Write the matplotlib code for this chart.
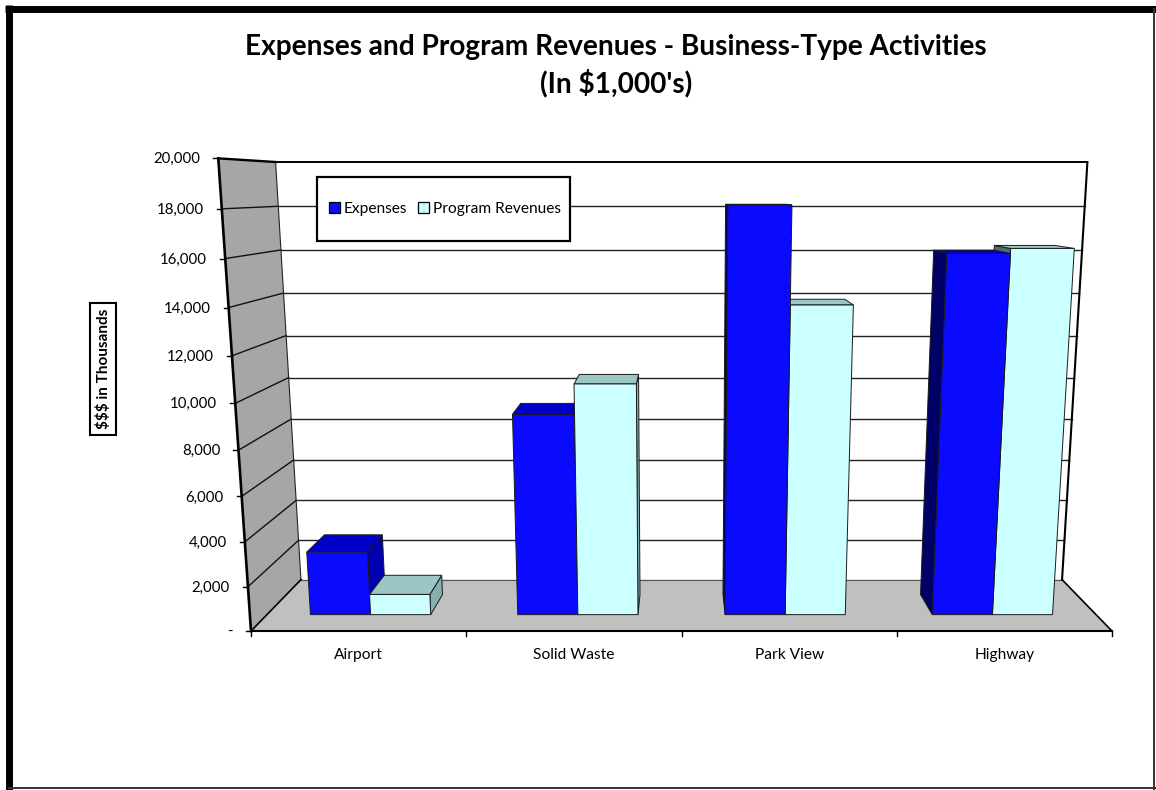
import numpy as np
import matplotlib
matplotlib.use("Agg")
import matplotlib.pyplot as plt
from matplotlib.patches import Polygon, Rectangle, Patch

# ---------------------------------------------------------------- data
categories = ["Airport", "Solid Waste", "Park View", "Highway"]
expenses = [2920, 9150, 18120, 16100]
program_revenues = [950, 10490, 13910, 16310]
series_names = ["Expenses", "Program Revenues"]
value_ticks = [0, 2000, 4000, 6000, 8000, 10000, 12000, 14000, 16000, 18000, 20000]
value_tick_labels = ["-", "2,000", "4,000", "6,000", "8,000", "10,000",
                     "12,000", "14,000", "16,000", "18,000", "20,000"]
title_lines = ["Expenses and Program Revenues - Business-Type Activities",
               "(In $1,000's)"]
y_label = "$$$ in Thousands"

# ---------------------------------------------------------------- styling
FONT = ["Lato", "DejaVu Sans"]
plt.rcParams["font.family"] = FONT

EXP_FACES = {"front": "#0A0AFF", "top": "#0000C8", "right": "#0000B0", "left": "#000066"}
REV_FACES = {"front": "#CCFFFF", "top": "#9CC6C6", "right": "#86B0B0", "left": "#4F6E6E"}
WALL_GRAY = "#A6A6A6"
FLOOR_GRAY = "#C0C0C0"

# ---------------------------------------------------------------- camera
W_PX, H_PX = 1156, 790
FOCAL = 1169.4
PITCH = np.arctan2(212.0, 1169.4)       # camera looks slightly downward
CENTER_X, CENTER_Y = 681.5, 400.0        # principal point (pixels)
HALF_WIDTH = 0.36814                     # half width of the plot box
FLOOR_Y = -0.37279                       # floor height relative to the eye
FRONT_Z = -0.94872                       # front plane distance
WALL_HEIGHT = 0.39597                    # height for the full value range
BOX_DEPTH = 0.13336                      # floor depth
Y_MAX = value_ticks[-1]
N_CAT = len(categories)
BAR_WIDTH = 0.29                         # in category units
BAR_FRONT, BAR_BACK = 0.293, 0.683       # fraction of the floor depth

cos_p, sin_p = np.cos(PITCH), np.sin(PITCH)


def project(cat_pos, value, depth):
    """Map (category position, value, depth fraction) to pixel coordinates."""
    cat_pos = np.asarray(cat_pos, dtype=float)
    value = np.asarray(value, dtype=float)
    depth = np.asarray(depth, dtype=float)
    X = (cat_pos / N_CAT - 0.5) * 2 * HALF_WIDTH
    Y = FLOOR_Y + WALL_HEIGHT * value / Y_MAX
    Z = FRONT_Z - BOX_DEPTH * depth
    yc = Y * cos_p - Z * sin_p
    zc = -Y * sin_p - Z * cos_p
    return CENTER_X + FOCAL * X / zc, CENTER_Y - FOCAL * yc / zc


def quad(points):
    xs, ys = project(*np.array(points).T)
    return np.column_stack([xs, ys])


def seg(ax, p0, p1, **kw):
    xs, ys = project(*np.array([p0, p1]).T)
    ax.plot(xs, ys, solid_capstyle="projecting", **kw)


fig = plt.figure(figsize=(W_PX / 100, H_PX / 100), dpi=100)
ax = fig.add_axes([0, 0, 1, 1])
ax.set_xlim(0, W_PX)
ax.set_ylim(H_PX, 0)
ax.axis("off")

# ---------------------------------------------------------------- walls & floor
ax.add_patch(Polygon(quad([(0, 0, 0), (0, 0, 1), (0, Y_MAX, 1), (0, Y_MAX, 0)]),
                     closed=True, fc=WALL_GRAY, ec="none", zorder=1))
ax.add_patch(Polygon(quad([(0, 0, 1), (N_CAT, 0, 1), (N_CAT, Y_MAX, 1), (0, Y_MAX, 1)]),
                     closed=True, fc="white", ec="none", zorder=1))
ax.add_patch(Polygon(quad([(0, 0, 0), (N_CAT, 0, 0), (N_CAT, 0, 1), (0, 0, 1)]),
                     closed=True, fc=FLOOR_GRAY, ec="none", zorder=1))

# gridlines on the side wall and back wall
for v in value_ticks[1:-1]:
    seg(ax, (0, v, 0), (0, v, 1), color="#111111", lw=1.0, zorder=2)
    seg(ax, (0, v, 1), (N_CAT, v, 1), color="#222222", lw=1.0, zorder=2)
seg(ax, (0, 0, 1), (N_CAT, 0, 1), color="#555555", lw=0.8, zorder=2)

# box outline
seg(ax, (0, 0, 0), (0, Y_MAX, 0), color="black", lw=1.9, zorder=2.5)
seg(ax, (0, Y_MAX, 0), (0, Y_MAX, 1), color="black", lw=1.7, zorder=2.5)
seg(ax, (0, 0, 1), (0, Y_MAX, 1), color="#222222", lw=0.8, zorder=2.5)
seg(ax, (0, Y_MAX, 1), (N_CAT, Y_MAX, 1), color="black", lw=1.4, zorder=2.5)
seg(ax, (N_CAT, 0, 1), (N_CAT, Y_MAX, 1), color="black", lw=1.5, zorder=2.5)
seg(ax, (0, 0, 0), (N_CAT, 0, 0), color="black", lw=1.5, zorder=2.5)
seg(ax, (0, 0, 0), (0, 0, 1), color="black", lw=1.2, zorder=2.5)
seg(ax, (N_CAT, 0, 0), (N_CAT, 0, 1), color="black", lw=1.2, zorder=2.5)

# value axis ticks and labels
for v, lab in zip(value_ticks, value_tick_labels):
    x, y = project(0, v, 0)
    ax.plot([x - 5, x], [y, y], color="black", lw=1.0, zorder=2.5)
    ax.text(x - 18, y + 1, lab, ha="right", va="center", fontsize=10.8, color="black")

# category ticks and labels
for i in range(N_CAT + 1):
    x, y = project(i, 0, 0)
    ax.plot([x, x], [y, y + 5], color="black", lw=1.0, zorder=2.5)
for i, name in enumerate(categories):
    x, y = project(i + 0.5, 0, 0)
    ax.text(x, y + 24, name, ha="center", va="center", fontsize=11.2, color="black")

# ---------------------------------------------------------------- bars
bars = []
for i in range(N_CAT):
    c = i + 0.5
    bars.append((c - BAR_WIDTH, c, expenses[i], EXP_FACES))
    bars.append((c, c + BAR_WIDTH, program_revenues[i], REV_FACES))

# paint the bars farthest from the view centre first
def bar_center_px(b):
    return abs(project((b[0] + b[1]) / 2, 0, BAR_FRONT)[0] - CENTER_X)

bars.sort(key=bar_center_px, reverse=True)

z = 3.0
edge = dict(ec="#1A1A1A", lw=0.7, joinstyle="miter")
for x0, x1, v, faces in bars:
    f, b = BAR_FRONT, BAR_BACK
    left_px = project(x0, v, f)[0]
    right_px = project(x1, v, f)[0]
    if right_px < CENTER_X:
        ax.add_patch(Polygon(quad([(x1, 0, f), (x1, 0, b), (x1, v, b), (x1, v, f)]),
                             closed=True, fc=faces["right"], zorder=z, **edge))
    if left_px > CENTER_X:
        ax.add_patch(Polygon(quad([(x0, 0, f), (x0, 0, b), (x0, v, b), (x0, v, f)]),
                             closed=True, fc=faces["left"], zorder=z, **edge))
    ax.add_patch(Polygon(quad([(x0, v, f), (x1, v, f), (x1, v, b), (x0, v, b)]),
                         closed=True, fc=faces["top"], zorder=z, **edge))
    ax.add_patch(Polygon(quad([(x0, 0, f), (x1, 0, f), (x1, v, f), (x0, v, f)]),
                         closed=True, fc=faces["front"], zorder=z, **edge))
    z += 0.1

# ---------------------------------------------------------------- legend
ax.add_patch(Rectangle((317, 177), 253, 64, fc="white", ec="black", lw=1.6, zorder=10))
handles = [Patch(fc=EXP_FACES["front"], ec="black", lw=0.9, label=series_names[0]),
           Patch(fc=REV_FACES["front"], ec="black", lw=0.9, label=series_names[1])]
ax.legend(handles=handles, loc="center", bbox_to_anchor=(445, 209),
          bbox_transform=ax.transData, ncol=2, frameon=False, fontsize=11.2,
          handlelength=0.7, handleheight=0.7, handletextpad=0.25,
          columnspacing=0.7, borderpad=0.0).set_zorder(11)

# ---------------------------------------------------------------- text
ax.text(616, 47, title_lines[0], ha="center", va="center", fontsize=20.2,
        fontweight="bold", color="black")
ax.text(616, 83, title_lines[1], ha="center", va="center", fontsize=20.2,
        fontweight="bold", color="black")
ax.text(103, 369, y_label, rotation=90, ha="center", va="center", fontsize=11,
        fontweight="bold", color="black",
        bbox=dict(boxstyle="square,pad=0.35", fc="white", ec="black", lw=1.5))

# ---------------------------------------------------------------- frame
ax.plot([8.5, 8.5], [5, H_PX], color="black", lw=5.0, solid_capstyle="butt", zorder=20)
ax.plot([5, W_PX], [8.5, 8.5], color="black", lw=5.0, solid_capstyle="butt", zorder=20)
ax.plot([1154, 1154], [8.5, H_PX], color="#333333", lw=1.4, zorder=20)
ax.plot([8.5, W_PX], [788, 788], color="#333333", lw=1.4, zorder=20)

fig.savefig("out.png", dpi=100)
